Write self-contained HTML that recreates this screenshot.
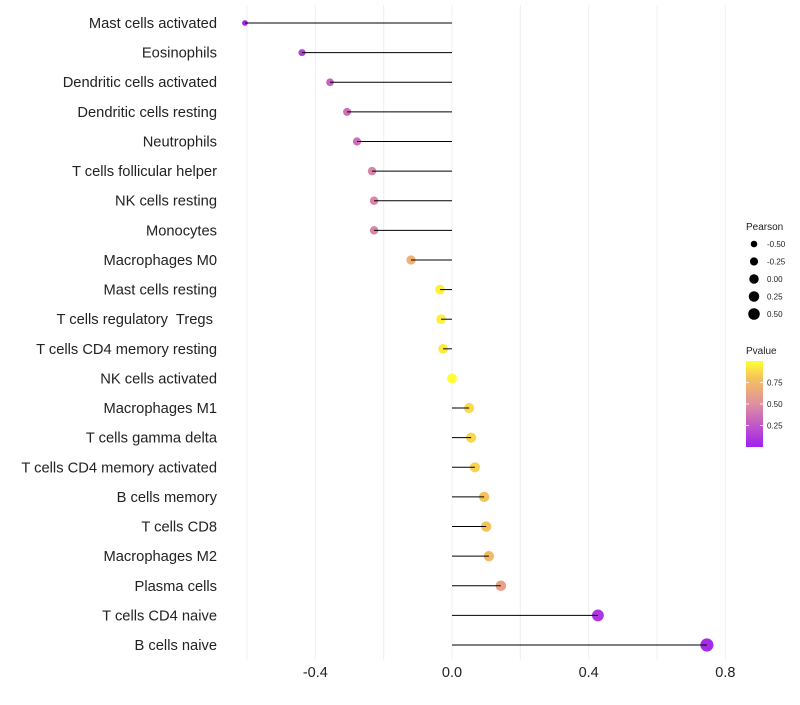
<!DOCTYPE html>
<html><head><meta charset="utf-8"><style>
body{margin:0;background:#fff;font-family:"Liberation Sans",sans-serif;}
text{white-space:pre;}
</style></head><body>
<svg id="chart" width="800" height="700" xmlns="http://www.w3.org/2000/svg">
<defs><linearGradient id="pg" x1="0" y1="1" x2="0" y2="0">
<stop offset="0" stop-color="#A020F0"/><stop offset="0.5" stop-color="#E08FA0"/><stop offset="0.8" stop-color="#F5C25A"/><stop offset="1" stop-color="#FFFF33"/></linearGradient></defs>
</svg>
<script>
const categories=["Mast cells activated","Eosinophils","Dendritic cells activated","Dendritic cells resting","Neutrophils","T cells follicular helper","NK cells resting","Monocytes","Macrophages M0","Mast cells resting","T cells regulatory  Tregs ","T cells CD4 memory resting","NK cells activated","Macrophages M1","T cells gamma delta","T cells CD4 memory activated","B cells memory","T cells CD8","Macrophages M2","Plasma cells","T cells CD4 naive","B cells naive"];
const pearson=[-0.606,-0.439,-0.357,-0.307,-0.278,-0.234,-0.228,-0.228,-0.12,-0.035,-0.032,-0.026,0.0,0.05,0.056,0.067,0.094,0.1,0.108,0.143,0.427,0.746];
const pvalue=[0.03,0.15,0.3,0.35,0.35,0.45,0.45,0.45,0.7,0.95,0.95,0.93,0.99,0.88,0.87,0.85,0.8,0.8,0.75,0.6,0.1,0.05];
const xTicks=[-0.4,0.0,0.4,0.8];
const xTickLabels=["-0.4","0.0","0.4","0.8"];
const sizeLegend=[-0.5,-0.25,0,0.25,0.5];
const sizeLegendLabels=["-0.50","-0.25","0.00","0.25","0.50"];
const pLegend=[0.75,0.5,0.25];
const pLegendLabels=["0.75","0.50","0.25"];

const NS="http://www.w3.org/2000/svg";
const svg=document.getElementById('chart');
const X=v=>452+v*341.7;
const Y=i=>23+i*29.62;
const R=v=>Math.sqrt(Math.max(2,24+26*v));
function col(p){
  const stops=[[0,[160,32,240]],[0.5,[224,143,160]],[0.8,[245,194,90]],[1,[255,255,51]]];
  for(let k=1;k<stops.length;k++){if(p<=stops[k][0]){const a=stops[k-1],b=stops[k];const t=(p-a[0])/(b[0]-a[0]);
    return 'rgb('+a[1].map((c,j)=>Math.round(c+(b[1][j]-c)*t)).join(',')+')';}}
  return 'rgb(255,255,51)';
}
function el(tag,attrs,name,text){const e=document.createElementNS(NS,tag);for(const k in attrs)e.setAttribute(k,attrs[k]);
  
  
  if(text!==undefined)e.textContent=text;svg.appendChild(e);return e;}
for(let v=-0.6;v<=0.81;v+=0.2){el('line',{x1:X(v),x2:X(v),y1:5,y2:660,stroke:'#f0f0f0','stroke-width':1},'grid-line');}
xTicks.forEach((v,i)=>{el('text',{x:X(v),y:677,'text-anchor':'middle','font-size':14.5,fill:'#222'},'x-tick-label',xTickLabels[i]);});
categories.forEach((c,i)=>{
  el('text',{x:217,y:Y(i)+5,'text-anchor':'end','font-size':14.7,fill:'#222'},'y-tick-label',c);
  el('circle',{cx:X(pearson[i]),cy:Y(i),r:R(pearson[i]),fill:col(pvalue[i])},'point');
  el('line',{x1:X(0),x2:X(pearson[i]),y1:Y(i),y2:Y(i),stroke:'#000','stroke-width':1},'stem-line');
});
el('text',{x:746,y:230,'font-size':10,fill:'#222'},'size-legend-title','Pearson');
sizeLegend.forEach((v,i)=>{const y=244+i*17.5;
  el('circle',{cx:754,cy:y,r:R(v)*0.9+0.3,fill:'#000'},'size-legend-dot');
  el('text',{x:767,y:y+3,'font-size':8,fill:'#222'},'size-legend-label',sizeLegendLabels[i]);});
el('text',{x:746,y:354,'font-size':10,fill:'#222'},'color-legend-title','Pvalue');
el('rect',{x:746,y:361,width:17,height:86,fill:'url(#pg)'},'color-bar');
pLegend.forEach((v,i)=>{const y=447-v*86;
  el('line',{x1:746,x2:749,y1:y,y2:y,stroke:'#fff','stroke-width':0.8},'color-bar-tick');
  el('line',{x1:760,x2:763,y1:y,y2:y,stroke:'#fff','stroke-width':0.8},'color-bar-tick');
  el('text',{x:767,y:y+3,'font-size':8,fill:'#222'},'color-legend-label',pLegendLabels[i]);});
</script>
</body></html>
